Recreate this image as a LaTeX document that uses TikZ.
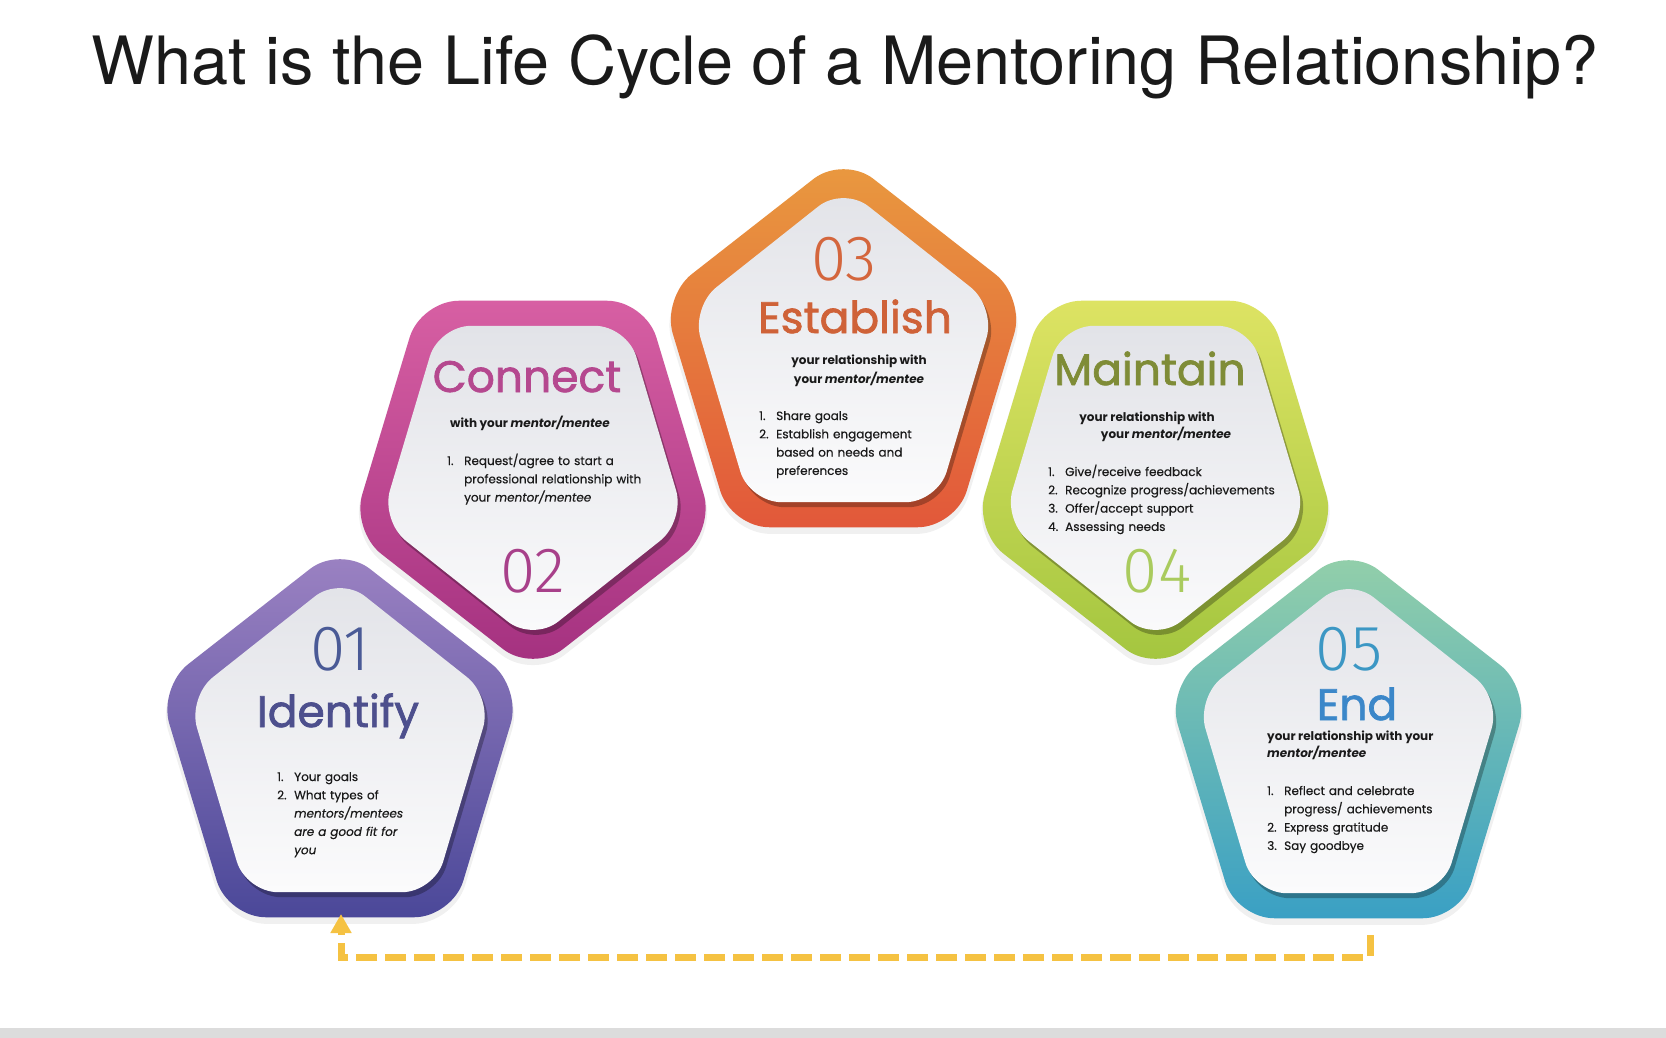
\documentclass[tikz,border=0pt]{standalone}
\usepackage{fontspec}
\setmainfont{Poppins}[FakeBold=0.45]
\newfontfamily\headfont{Poppins}[FakeBold=1.6]
\newfontfamily\subfont{Poppins}
\newfontfamily\titlefont{TeX Gyre Heros}
\newfontfamily\digitfont{Fira Sans Light}[Numbers=Proportional]
\usetikzlibrary{arrows.meta}
\definecolor{pAtop}{HTML}{9D83C3}\definecolor{pAbot}{HTML}{4B4899}
\definecolor{pBtop}{HTML}{D75FA3}\definecolor{pBbot}{HTML}{A3307F}
\definecolor{pCtop}{HTML}{E99A3F}\definecolor{pCbot}{HTML}{E2583A}
\definecolor{pDtop}{HTML}{DDE363}\definecolor{pDbot}{HTML}{A2C53E}
\definecolor{pEtop}{HTML}{95D0A9}\definecolor{pEbot}{HTML}{3AA0C4}
\definecolor{tA}{HTML}{4D4F8D}\definecolor{nA}{HTML}{4A5A96}
\definecolor{tB}{HTML}{B5488F}\definecolor{nB}{HTML}{A8408A}
\definecolor{tC}{HTML}{CF6238}\definecolor{nC}{HTML}{D4663D}
\definecolor{tD}{HTML}{7F8C37}\definecolor{nD}{HTML}{AACB5E}
\definecolor{tE}{HTML}{3B87C9}\definecolor{nE}{HTML}{3C97C4}
\definecolor{innertop}{HTML}{E2E3E8}\definecolor{innerbot}{HTML}{FBFBFC}
\definecolor{arrowyellow}{HTML}{F5C242}
\definecolor{bargray}{HTML}{DCDCDC}
\definecolor{bodyblack}{HTML}{1A1A1A}
\newcommand\pentfill[4]{%
  \path[#1] (#2:#3 and #4) -- (#2+72:#3 and #4) -- (#2+144:#3 and #4) -- (#2+216:#3 and #4) -- (#2+288:#3 and #4) -- cycle;}
\newcommand\pentagonbox[5]{%
  \begin{scope}[shift={(#1,#2)}]
    \begin{scope}[shift={(0,5)}]\pentfill{fill=black,opacity=0.06,rounded corners=40pt}{#3}{193}{207.5}\end{scope}
    \pentfill{top color=#4,bottom color=#5,rounded corners=38pt}{#3}{191}{205.5}
    \begin{scope}[shift={(3,5)}]\pentfill{fill=black,opacity=0.28,rounded corners=32pt}{#3}{160}{174.5}\end{scope}
    \pentfill{top color=innertop,bottom color=innerbot,rounded corners=32pt}{#3}{160}{174.5}
  \end{scope}}
\newcommand\ind{\hspace*{17pt}}
\newcommand\itm[1]{\makebox[17pt][l]{#1}}
\begin{document}
\begin{tikzpicture}[x=1pt,y=-1pt,
  titlestyle/.style={font=\titlefont\fontsize{66.6}{70}\selectfont, text=bodyblack, anchor=base, inner sep=0},
  num/.style={font=\digitfont\fontsize{64}{64}\selectfont, anchor=base, inner sep=0},
  head/.style={font=\headfont\fontsize{44}{48}\selectfont, anchor=base, inner sep=0},
  sub/.style={font=\subfont\bfseries\fontsize{12}{17.5}\selectfont, text=bodyblack, inner sep=0},
  lst/.style={font=\fontsize{12}{18.3}\selectfont, text=bodyblack, inner sep=0, anchor=base west, align=left, text width=230pt},
  loopline/.style={line width=7pt, draw=arrowyellow, dash pattern=on 21pt off 8pt, -{Triangle[length=19pt,width=20pt]}}]
\useasboundingbox (0,0) rectangle (1666,1038);
\fill[white] (0,0) rectangle (1666,1038);
\fill[bargray] (0,1028) rectangle (1666,1038);

\node[titlestyle] (title) at (845,85) {What is the Life Cycle of a Mentoring Relationship?};

\pentagonbox{340}{751}{270}{pAtop}{pAbot}
\pentagonbox{533}{467}{90}{pBtop}{pBbot}
\pentagonbox{843.5}{361}{270}{pCtop}{pCbot}
\pentagonbox{1155.5}{467}{90}{pDtop}{pDbot}
\pentagonbox{1348.5}{752}{270}{pEtop}{pEbot}

% 01
\node[num, text=nA] (n1) at (340,670) {01};
\node[head, text=tA] (h1) at (338,727) {Identify};
\node[lst] (l1) at (277,781) {\itm{1.}Your goals\\ \itm{2.}What types of\\ \ind\textit{mentors/mentees}\\ \ind\textit{are a good fit for}\\ \ind\textit{you}};

% 02
\node[head, text=tB] (h2) at (527,392) {Connect};
\node[sub, anchor=base] (s2) at (530,427) {with your \textit{mentor/mentee}};
\node[lst] (l2) at (447,465) {\itm{1.}Request/agree to start a\\ \ind professional relationship with\\ \ind your \textit{mentor/mentee}};
\node[num, text=nB] (n2) at (533,592) {02};

% 03
\node[num, text=nC] (n3) at (844,280) {03};
\node[head, text=tC] (h3) at (855,333) {Establish};
\node[sub, anchor=base] (s3a) at (859,364) {your relationship with};
\node[sub, anchor=base] (s3b) at (859,383) {your \textit{mentor/mentee}};
\node[lst] (l3) at (759,420) {\itm{1.}Share goals\\ \itm{2.}Establish engagement\\ \ind based on needs and\\ \ind preferences};

% 04
\node[head, text=tD] (h4) at (1150,385) {Maintain};
\node[sub, anchor=base] (s4a) at (1147,421) {your relationship with};
\node[sub, anchor=base] (s4b) at (1166,438) {your \textit{mentor/mentee}};
\node[lst] (l4) at (1048,476) {\itm{1.}Give/receive feedback\\ \itm{2.}Recognize progress/achievements\\ \itm{3.}Offer/accept support\\ \itm{4.}Assessing needs};
\node[num, text=nD] (n4) at (1157,592) {04};

% 05
\node[num, text=nE] (n5) at (1349,670) {05};
\node[head, text=tE, text depth=0pt] (h5) at (1357,720) {End};
\node[sub, anchor=base west] (s5a) at (1267,740) {your relationship with your};
\node[sub, anchor=base west] (s5b) at (1267,757) {\textit{mentor/mentee}};
\node[lst] (l5) at (1267,795) {\itm{1.}Reflect and celebrate\\ \ind progress/ achievements\\ \itm{2.}Express gratitude\\ \itm{3.}Say goodbye};

% loop-back arrow from 05 to 01
\coordinate (endA) at (1370,935);
\coordinate (turnB) at (341,957);
\coordinate (tipC) at (341,914);
\draw[loopline] (endA) |- (turnB) -- (tipC);
\end{tikzpicture}
\end{document}
